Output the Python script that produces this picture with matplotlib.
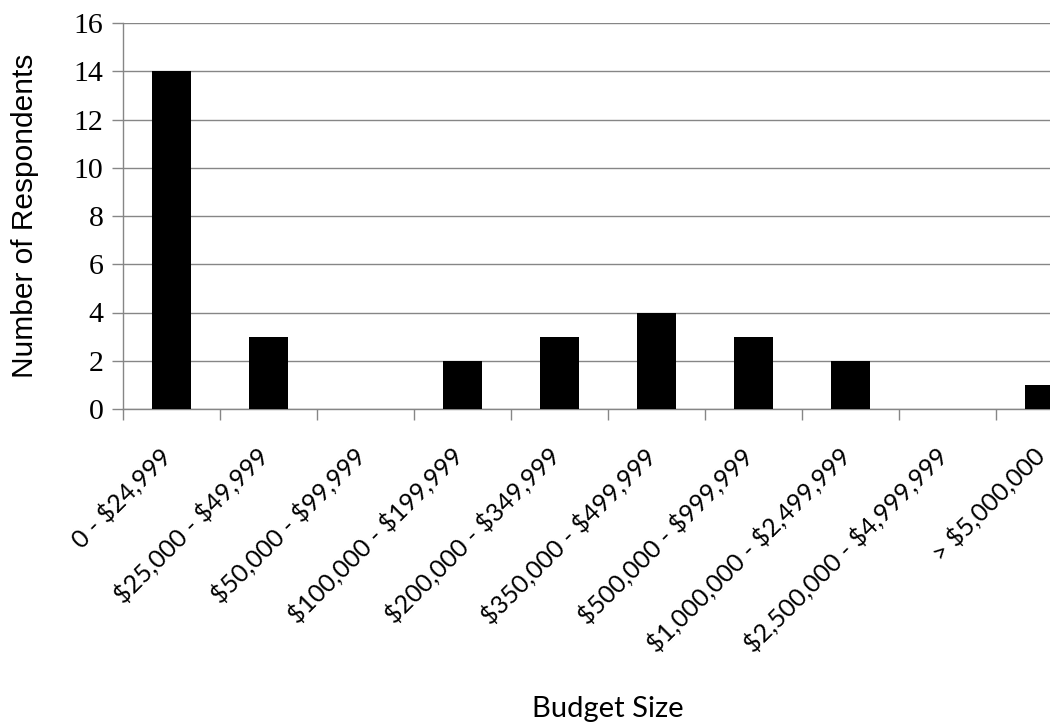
import matplotlib
matplotlib.use("Agg")
import matplotlib.pyplot as plt
import matplotlib.transforms as mtransforms
import numpy as np

categories = ["0 - $24,999", "$25,000 - $49,999", "$50,000 - $99,999",
              "$100,000 - $199,999", "$200,000 - $349,999", "$350,000 - $499,999",
              "$500,000 - $999,999", "$1,000,000 - $2,499,999",
              "$2,500,000 - $4,999,999", "> $5,000,000"]
respondents = [14, 3, 0, 2, 3, 4, 3, 2, 0, 1]
y_ticks = [0, 2, 4, 6, 8, 10, 12, 14, 16]

grey = "#868686"

fig = plt.figure(figsize=(10.5, 7.23), dpi=100)
# axes runs past the right edge like the cropped original
ax = fig.add_axes([123 / 1050, 1 - 409 / 723, 970 / 1050, 386 / 723])

x = np.arange(len(categories))
ax.bar(x, respondents, width=0.4, color="black", zorder=3)

ax.set_xlim(-0.5, len(categories) - 0.5)
ax.set_ylim(0, 16)
ax.set_yticks(y_ticks)
ax.set_yticklabels([str(v) for v in y_ticks], family="Liberation Serif", fontsize=21.5)
ax.yaxis.grid(True, color=grey, linewidth=1.0, zorder=0)

ax.set_xticks(x)
# escape $ so mathtext stays off
ax.set_xticklabels([c.replace("$", r"\$") for c in categories], rotation=45, ha="right",
                   va="center", rotation_mode="anchor", family="Lato", fontsize=18)
ax.set_xticks(np.arange(len(categories)) - 0.5, minor=True)
ax.tick_params(axis="x", which="major", length=0, pad=31)
ax.tick_params(axis="x", which="minor", length=8, width=1.0, color=grey, direction="out")
ax.tick_params(axis="y", length=8, width=1.0, color=grey, direction="out", pad=6)

offset = mtransforms.ScaledTranslation(-4 / 100, 0, fig.dpi_scale_trans)
for lbl in ax.get_xticklabels():
    lbl.set_transform(lbl.get_transform() + offset)

for side in ["top", "right"]:
    ax.spines[side].set_visible(False)
for side in ["left", "bottom"]:
    ax.spines[side].set_color(grey)
    ax.spines[side].set_linewidth(1.0)

ax.set_ylabel("Number of Respondents", family="Liberation Sans", fontsize=21.5)
ax.yaxis.set_label_coords(39 / 1050, 0.5, transform=mtransforms.blended_transform_factory(
    fig.transFigure, ax.transAxes))
ax.set_xlabel("Budget Size", family="Lato", fontsize=21)
ax.xaxis.set_label_coords(0.5, 6 / 723, transform=mtransforms.blended_transform_factory(
    ax.transAxes, fig.transFigure))
ax.xaxis.label.set_va("baseline")

fig.savefig("out.png", dpi=100)
